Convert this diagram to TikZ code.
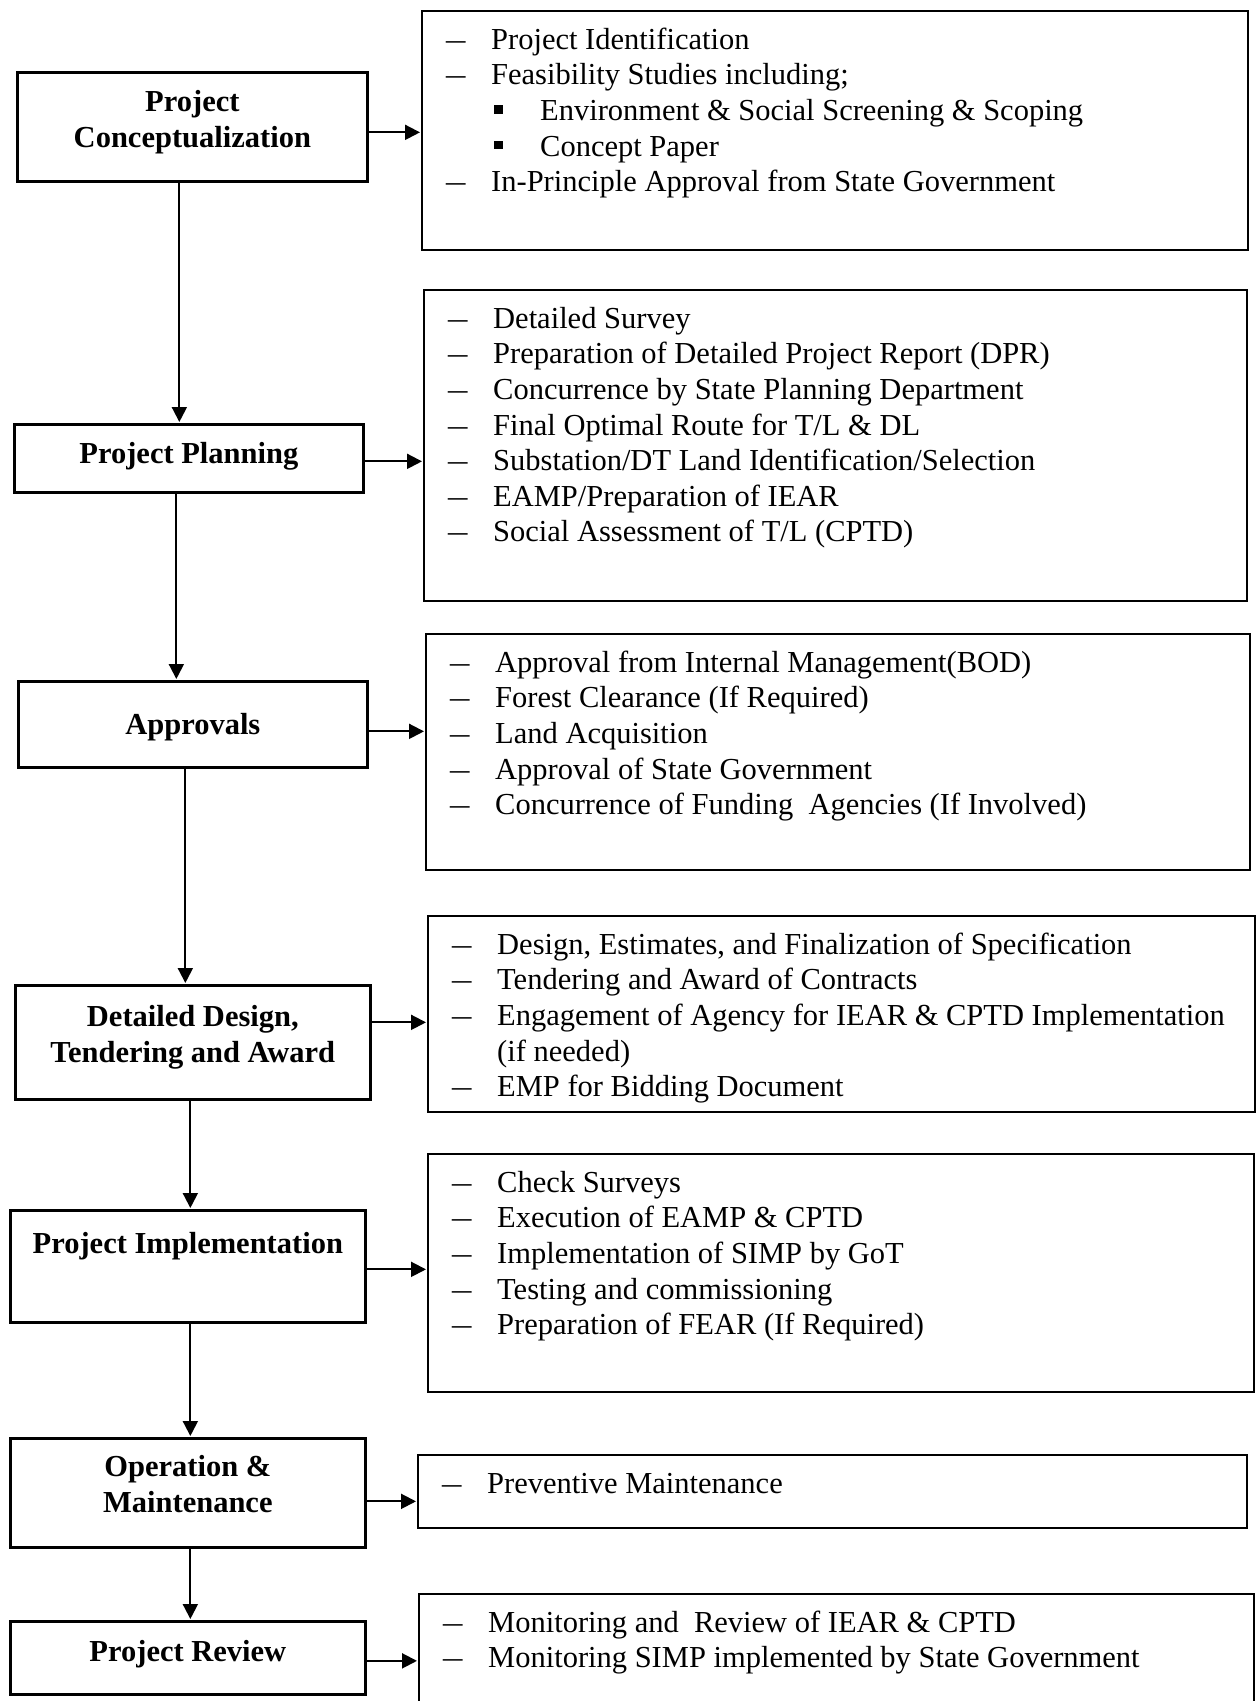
\documentclass[tikz,border=0pt]{standalone}
\usepackage{graphicx}
\usepackage{fontspec}
\setmainfont{Liberation Serif}
\usetikzlibrary{arrows.meta}

% one line of a list box: dash, square bullet, continued line
\newcommand{\dashln}[1]{\par\noindent\strut\hspace*{12pt}\makebox[22.5pt][l]{\scalebox{1.27}[1]{--}}#1}
\newcommand{\sqln}[1]{\par\noindent\strut\hspace*{36pt}\makebox[23pt][l]{\rule[3.5pt]{4.5pt}{4.2pt}}#1}
\newcommand{\contln}[1]{\par\noindent\strut\hspace*{34.5pt}#1}
\newcommand{\itemblock}[3]{\begin{minipage}[t][#2][t]{#1}\parskip=0pt\vspace*{6.6pt}#3\end{minipage}}

\begin{document}
\begin{tikzpicture}[x=0.5pt,y=-0.5pt,font=\fontsize{15.25pt}{17.8pt}\selectfont,
    stepbox/.style={draw,line width=1.35pt,anchor=north west,align=center,inner sep=0pt,font=\fontsize{15.25pt}{17.8pt}\selectfont\bfseries},
    listbox/.style={draw,line width=1.2pt,anchor=north west,inner sep=0pt},
    arr/.style={-{Triangle[length=7.5pt,width=7.5pt]},line width=1pt,shorten >=0.5pt}]
  \useasboundingbox (0,0) rectangle (1257,1701);
  % stages
  \node[stepbox,minimum width=175pt,minimum height=54.5pt,text depth=7.7pt] (l1) at (16,71) {Project\\Conceptualization};
  \node[stepbox,minimum width=174.5pt,minimum height=34pt,text depth=5.3pt] (l2) at (13,423) {Project Planning};
  \node[stepbox,minimum width=174.5pt,minimum height=43pt,text depth=0.2pt] (l3) at (17,680) {Approvals};
  \node[stepbox,minimum width=177.5pt,minimum height=57pt,text depth=8.3pt] (l4) at (14,984) {Detailed Design,\\Tendering and Award};
  \node[stepbox,minimum width=177.5pt,minimum height=56pt] (l5) at (9,1209) {Project Implementation\\\strut};
  \node[stepbox,minimum width=177.5pt,minimum height=54.5pt,text depth=9pt] (l6) at (9,1437) {Operation \&\\Maintenance};
  \node[stepbox,minimum width=177.5pt,minimum height=36.5pt,text depth=6.8pt] (l7) at (9,1620) {Project Review};
  % activities
  \node[listbox] (r1) at (421,10) {\itemblock{413pt}{119.5pt}{%
    \dashln{Project Identification}
    \dashln{Feasibility Studies including;}
    \sqln{Environment \& Social Screening \& Scoping}
    \sqln{Concept Paper}
    \dashln{In-Principle Approval from State Government}}};
  \node[listbox] (r2) at (423,289) {\itemblock{411.5pt}{155.5pt}{%
    \dashln{Detailed Survey}
    \dashln{Preparation of Detailed Project Report (DPR)}
    \dashln{Concurrence by State Planning Department}
    \dashln{Final Optimal Route for T/L \& DL}
    \dashln{Substation/DT Land Identification/Selection}
    \dashln{EAMP/Preparation of IEAR}
    \dashln{Social Assessment of T/L (CPTD)}}};
  \node[listbox] (r3) at (425,633) {\itemblock{412pt}{118pt}{%
    \dashln{Approval from Internal Management(BOD)}
    \dashln{Forest Clearance (If Required)}
    \dashln{Land Acquisition}
    \dashln{Approval of State Government}
    \dashln{Concurrence of Funding\ \ Agencies (If Involved)}}};
  \node[listbox] (r4) at (427,915) {\itemblock{413.5pt}{98pt}{%
    \dashln{Design, Estimates, and Finalization of Specification}
    \dashln{Tendering and Award of Contracts}
    \dashln{Engagement of Agency for IEAR \& CPTD Implementation}
    \contln{(if needed)}
    \dashln{EMP for Bidding Document}}};
  \node[listbox] (r5) at (427,1153) {\itemblock{413pt}{119pt}{%
    \dashln{Check Surveys}
    \dashln{Execution of EAMP \& CPTD}
    \dashln{Implementation of SIMP by GoT}
    \dashln{Testing and commissioning}
    \dashln{Preparation of FEAR (If Required)}}};
  \node[listbox] (r6) at (417,1454) {\itemblock{414.5pt}{36.5pt}{%
    \dashln{Preventive Maintenance}}};
  \node[listbox] (r7) at (418,1593) {\itemblock{417.5pt}{60pt}{%
    \dashln{Monitoring and\ \ Review of IEAR \& CPTD}
    \dashln{Monitoring SIMP implemented by State Government}}};
  % connectors
  \foreach \i/\dy in {1/-2.75pt,2/-1.5pt,3/-3.5pt,4/10pt,5/-1.5pt,6/-4.25pt,7/-1.5pt}
    \draw[arr] ([yshift=\dy]l\i.east) coordinate (h\i) -- (h\i -| r\i.west);
  \foreach \i/\j/\dx in {1/2/-6.5pt,2/3/-6.25pt,3/4/-3.75pt,4/5/-1.25pt,5/6/1.25pt,6/7/1.25pt}
    \draw[arr] ([xshift=\dx]l\i.south) coordinate (v\i) -- (v\i |- l\j.north);
\end{tikzpicture}
\end{document}
